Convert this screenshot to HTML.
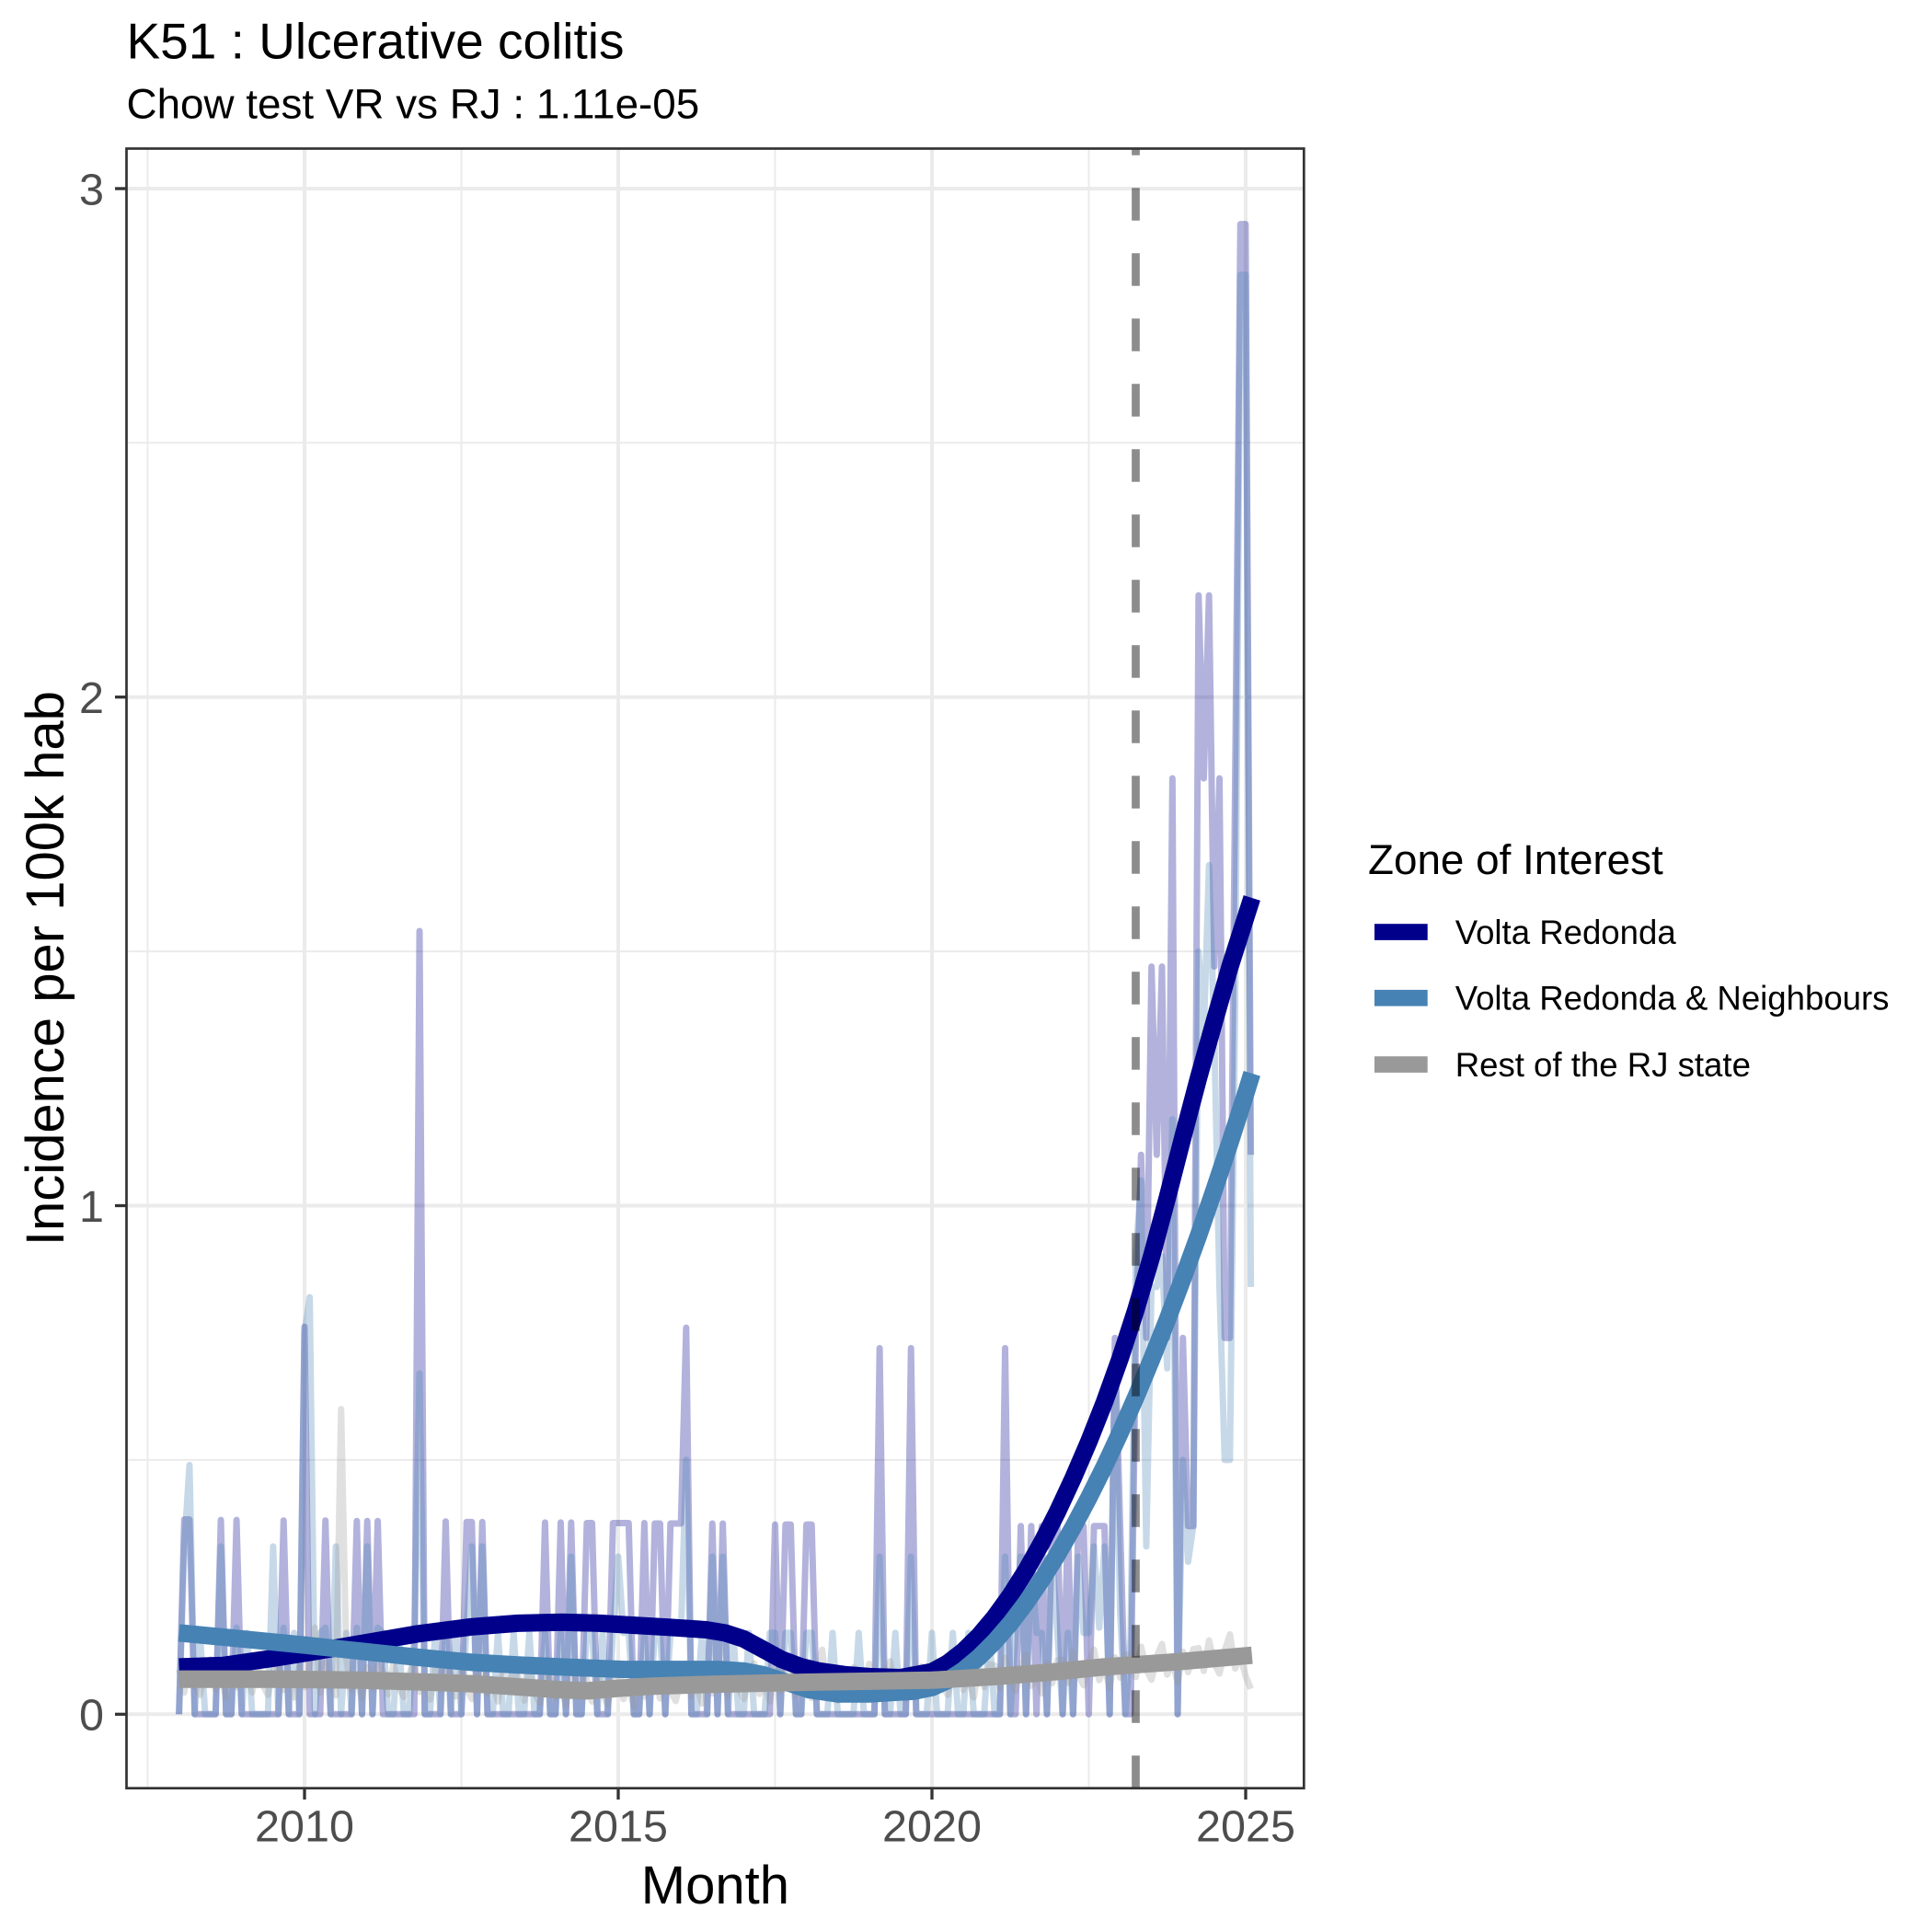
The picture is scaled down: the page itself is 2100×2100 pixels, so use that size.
<!DOCTYPE html>
<html>
<head>
<meta charset="utf-8">
<style>
html,body{margin:0;padding:0;background:#fff;}
svg{display:block;}
</style>
</head>
<body>
<svg width="2100" height="2100" viewBox="0 0 2100 2100" xmlns="http://www.w3.org/2000/svg" font-family="'Liberation Sans', Arial, sans-serif">
<rect x="0" y="0" width="2100" height="2100" fill="#ffffff"/>
<defs>
<clipPath id="pc"><rect x="137.5" y="161.5" width="1279.8" height="1782.2"/></clipPath>
</defs>

<rect x="137.5" y="161.5" width="1279.8" height="1782.2" fill="#ffffff"/>

<!-- minor grid -->
<g stroke="#ebebeb" stroke-width="2" fill="none">
<line x1="160.5" y1="161.5" x2="160.5" y2="1943.7"/>
<line x1="501.5" y1="161.5" x2="501.5" y2="1943.7"/>
<line x1="842.5" y1="161.5" x2="842.5" y2="1943.7"/>
<line x1="1183.5" y1="161.5" x2="1183.5" y2="1943.7"/>
<line x1="137.5" y1="1586.9" x2="1417.3" y2="1586.9"/>
<line x1="137.5" y1="1034.1" x2="1417.3" y2="1034.1"/>
<line x1="137.5" y1="481.3" x2="1417.3" y2="481.3"/>
</g>
<!-- major grid -->
<g stroke="#ebebeb" stroke-width="4" fill="none">
<line x1="331" y1="161.5" x2="331" y2="1943.7"/>
<line x1="672" y1="161.5" x2="672" y2="1943.7"/>
<line x1="1013" y1="161.5" x2="1013" y2="1943.7"/>
<line x1="1354" y1="161.5" x2="1354" y2="1943.7"/>
<line x1="137.5" y1="1863.3" x2="1417.3" y2="1863.3"/>
<line x1="137.5" y1="1310.5" x2="1417.3" y2="1310.5"/>
<line x1="137.5" y1="757.7" x2="1417.3" y2="757.7"/>
<line x1="137.5" y1="205" x2="1417.3" y2="205"/>
</g>

<g clip-path="url(#pc)">
<!-- raw series -->
<g transform="translate(194.6 1863.3) scale(5.683 -5.683)" fill="none" stroke-linejoin="round" stroke-linecap="butt">
<polyline stroke="#00008B" stroke-opacity="0.3" stroke-width="1.23"
points="0,0 1,37.25 2,37.25 3,0 7,0 8,37.16 9,0 10,0 11,37.16 12,0 19,0 20,37.06 21,0 23,0 24,74.12 25,0 27,0 28,37.06 29,0 33,0 34,36.96 35,0 36,36.96 37,0 38,36.96 39,0 45,0 46,149.8 47,0 50,0 51,36.87 52,0 54,0 55,36.77 56,36.77 57,0 58,36.77 59,0 69,0 70,36.67 71,0 72,0 73,36.67 74,0 75,36.67 76,0 77,0 78,36.57 79,36.57 80,0 82,0 83,36.57 84,36.57 85,36.57 86,36.57 87,0 88,0 89,36.57 90,0 91,36.48 92,36.48 93,0 94,36.48 95,36.48 96,36.48 97,73.93 98,0 101,0 102,36.48 103,0 104,36.48 105,0 113,0 114,36.28 115,0 116,36.28 117,36.28 118,0 119,0 120,36.28 121,36.28 122,0 133,0 134,70.03 135,0 139,0 140,70.03 141,0 157,0 158,70.03 159,0 160,0 161,35.99 162,0 163,35.99 164,0 165,35.99 166,0 167,35.99 168,35.99 169,0 170,35.99 171,0 172,35.99 173,35.99 174,0 175,35.99 176,35.99 177,35.99 178,0 179,71.98 180,35.99 181,0 182,0 183,71.98 184,107 185,71.98 186,143 187,107 188,143 189,71.98 190,179 191,0 192,71.98 193,35.99 194,35.99 195,214 196,179 197,214 198,143 199,179 200,71.98 201,71.98 202,179 203,285 204,285 205,107"/>
<polyline stroke="#4682B4" stroke-opacity="0.3" stroke-width="1.23"
points="0,0 1,32.1 2,47.66 3,0 4,15.56 5,0 7,0 8,32.1 9,0 10,0 11,16.54 12,0 13,15.56 14,0 17,0 18,32.1 19,0 20,16.54 21,0 22,15.56 23,0 24,72.95 25,79.76 26,0 27,15.56 28,16.54 29,0 30,32.1 31,0 32,15.56 33,0 34,16.54 35,0 36,32.1 37,0 38,16.54 39,15.56 40,0 41,0 42,15.56 43,0 44,0 45,15.56 46,65.17 47,0 48,0 49,15.56 50,0 51,16.54 52,0 53,15.56 54,0 55,16.54 56,32.1 57,0 58,32.1 59,0 60,0 61,15.56 62,0 63,0 64,15.56 65,0 66,0 67,15.56 68,0 69,0 70,15.56 71,0 72,0 73,15.56 74,0 75,30.15 76,0 77,0 78,15.56 79,15.56 80,0 81,15.56 82,0 83,15.56 84,30.15 85,15.56 86,15.56 87,0 88,0 89,15.56 90,0 91,15.56 92,15.56 93,0 94,15.56 95,15.56 96,15.56 97,48.64 98,0 99,0 100,15.56 101,0 102,30.15 103,0 104,30.15 105,0 106,15.56 107,0 108,0 109,15.56 110,0 112,0 113,15.56 114,15.56 115,0 116,15.56 117,15.56 118,0 119,0 120,15.56 121,15.56 122,0 124,0 125,15.56 126,0 129,0 130,15.56 131,0 133,0 134,30.15 135,0 136,0 137,15.56 138,0 139,0 140,30.15 141,0 143,0 144,15.56 145,0 147,0 148,15.56 149,0 150,0 151,15.56 152,0 154,0 155,15.56 156,0 157,0 158,30.15 159,0 160,15.56 161,30.15 162,0 163,30.15 164,15.56 165,15.56 166,0 167,30.15 168,15.56 169,0 170,15.56 171,0 172,30.15 173,15.56 174,15.56 175,32.1 176,16.54 177,32.1 178,0 179,68.09 180,19.45 181,0 182,14.59 183,87.54 184,102.1 185,32.1 186,81.71 187,81.71 188,87.54 189,66.14 190,113.8 191,0 192,48.64 193,29.18 194,35.99 195,145.9 196,130.3 197,162.4 198,130.3 199,81.71 200,48.64 201,48.64 202,136.2 203,275.3 204,275.3 205,81.71"/>
<polyline stroke="#999999" stroke-opacity="0.3" stroke-width="1.23"
points="0,8.56 1,4.18 2,10.01 3,5.64 4,3.69 5,8.07 6,10.50 7,4.66 8,7.10 9,3.21 10,9.04 11,5.15 12,9.53 13,8.56 14,4.18 15,10.01 16,5.64 17,3.69 18,8.07 19,10.50 20,4.66 21,7.10 22,3.21 23,9.04 24,5.15 25,9.53 26,16.54 27,4.09 28,9.92 29,5.55 30,3.60 31,58.36 32,10.41 33,4.57 34,7.01 35,3.12 36,8.95 37,5.06 38,9.44 39,8.18 40,3.80 41,9.63 42,5.26 43,3.31 44,7.69 45,10.12 46,4.28 47,6.72 48,2.83 49,8.66 50,4.77 51,9.15 52,7.79 53,3.41 54,9.24 55,4.87 56,2.92 57,7.30 58,9.73 59,3.89 60,6.33 61,2.44 62,8.27 63,4.38 64,8.76 65,7.01 66,2.63 67,8.46 68,4.09 69,2.14 70,6.52 71,8.95 72,3.11 73,5.55 74,1.66 75,7.49 76,3.60 77,7.98 78,6.81 79,2.43 80,8.26 81,3.89 82,1.94 83,6.32 84,8.75 85,2.91 86,5.35 87,1.46 88,7.29 89,3.40 90,7.78 91,7.40 92,3.02 93,8.85 94,4.48 95,2.53 96,6.91 97,9.34 98,3.50 99,5.94 100,2.05 101,7.88 102,3.99 103,8.37 104,7.79 105,3.41 106,9.24 107,4.87 108,2.92 109,7.30 110,9.73 111,3.89 112,6.33 113,2.44 114,8.27 115,4.38 116,8.76 117,7.98 118,3.60 119,9.43 120,5.06 121,3.11 122,7.49 123,12.35 124,4.08 125,6.52 126,2.63 127,8.46 128,4.57 129,8.95 130,8.18 131,3.80 132,9.63 133,5.26 134,3.31 135,7.69 136,10.12 137,4.28 138,6.72 139,2.83 140,8.66 141,4.77 142,9.15 143,8.56 144,4.18 145,10.01 146,5.64 147,3.69 148,8.07 149,10.50 150,4.66 151,7.10 152,3.21 153,9.04 154,5.15 155,9.53 156,9.34 157,4.96 158,10.79 159,6.42 160,4.47 161,8.85 162,11.28 163,5.44 164,7.88 165,3.99 166,9.82 167,5.93 168,10.31 169,10.41 170,6.03 171,11.86 172,7.49 173,5.54 174,9.92 175,12.35 176,6.51 177,8.95 178,5.06 179,10.89 180,7.00 181,11.38 182,11.48 183,7.10 184,12.93 185,8.56 186,6.61 187,10.99 188,13.42 189,7.58 190,10.02 191,6.13 192,11.96 193,8.07 194,12.45 195,12.65 196,8.27 197,14.10 198,9.73 199,7.78 200,12.16 201,15.27 202,8.75 203,11.19 204,7.30 205,4.86"/>
</g>

<!-- smoothed series -->
<g transform="translate(194.6 1863.3) scale(68.2 -68.2)" fill="none" stroke-linejoin="round" stroke-linecap="butt">
<polyline stroke="#00008B" stroke-width="0.279"
points="0,.754 0.7,.778 1.5,.892 2.2,1.005 2.9,1.127 3.8,1.281 4.67,1.394 5.4,1.451 6.1,1.467 6.7,1.451 7.1,1.427 7.8,1.386 8.4,1.346 8.7,1.297 9.0,1.200 9.3,1.038 9.6,.875 9.9,.762 10.2,.689 10.6,.632 11.0,.600 11.5,.584 12.0,.677 12.25,.814 12.5,1.007 12.75,1.253 13.0,1.550 13.25,1.897 13.5,2.292 13.75,2.736 14.0,3.226 14.25,3.764 14.5,4.345 14.75,4.977 15.0,5.674 15.25,6.444 15.5,7.295 15.75,8.227 16.0,9.200 16.25,10.148 16.5,11.040 16.75,11.915 17.1,13.010"/>
<polyline stroke="#4682B4" stroke-width="0.279"
points="0,1.297 1.0,1.200 2.0,1.102 2.9,1.005 3.8,.908 4.67,.827 5.4,.786 6.1,.754 7.1,.713 8.0,.713 8.6,.713 9.0,.689 9.3,.632 9.7,.503 10.05,.389 10.5,.324 11.0,.324 11.4,.349 11.7,.365 12.0,.425 12.25,.539 12.5,.702 12.75,.910 13.0,1.160 13.25,1.449 13.5,1.778 13.75,2.143 14.0,2.544 14.25,2.980 14.5,3.450 14.75,3.952 15.0,4.488 15.25,5.056 15.5,5.656 15.75,6.286 16.0,6.947 16.25,7.635 16.5,8.362 16.75,9.111 17.0,9.889 17.1,10.213"/>
<polyline stroke="#999999" stroke-width="0.279"
points="0,.559 1.5,.559 2.9,.543 4.0,.511 4.67,.486 5.5,.430 6.1,.389 6.5,.373 7.0,.413 7.5,.446 8.5,.478 10,.511 11,.527 12,.543 13,.600 14,.681 14.74,.754 16,.843 17.1,.940"/>
</g>

<!-- vertical dashed line -->
<line x1="1234.5" y1="1943.7" x2="1234.5" y2="161.5" stroke="#000000" stroke-opacity="0.45" stroke-width="8.7" stroke-dasharray="35.5 35.5"/>
</g>

<!-- panel border -->
<rect x="137.5" y="161.5" width="1279.8" height="1782.2" fill="none" stroke="#333333" stroke-width="2.7"/>

<!-- ticks -->
<g stroke="#333333" stroke-width="3.3">
<line x1="125" y1="1863.3" x2="137.5" y2="1863.3"/>
<line x1="125" y1="1310.5" x2="137.5" y2="1310.5"/>
<line x1="125" y1="757.7" x2="137.5" y2="757.7"/>
<line x1="125" y1="205" x2="137.5" y2="205"/>
<line x1="331" y1="1943.7" x2="331" y2="1956"/>
<line x1="672" y1="1943.7" x2="672" y2="1956"/>
<line x1="1013" y1="1943.7" x2="1013" y2="1956"/>
<line x1="1354" y1="1943.7" x2="1354" y2="1956"/>
</g>

<!-- tick labels -->
<g fill="#4d4d4d" font-size="48.5">
<text x="113" y="1880.7" text-anchor="end">0</text>
<text x="113" y="1327.9" text-anchor="end">1</text>
<text x="113" y="775.1" text-anchor="end">2</text>
<text x="113" y="222.4" text-anchor="end">3</text>
<text x="331" y="2001.7" text-anchor="middle">2010</text>
<text x="672" y="2001.7" text-anchor="middle">2015</text>
<text x="1013" y="2001.7" text-anchor="middle">2020</text>
<text x="1354" y="2001.7" text-anchor="middle">2025</text>
</g>

<!-- axis titles -->
<text x="777.4" y="2069" text-anchor="middle" font-size="58" fill="#000">Month</text>
<text transform="translate(69 1052.6) rotate(-90)" text-anchor="middle" font-size="58" fill="#000">Incidence per 100k hab</text>

<!-- titles -->
<text x="137.5" y="63.3" font-size="55" fill="#000">K51 : Ulcerative colitis</text>
<text x="137.5" y="128.3" font-size="45.8" fill="#000">Chow test VR vs RJ : 1.11e-05</text>

<!-- legend -->
<text x="1487" y="950" font-size="45.8" fill="#000">Zone of Interest</text>
<rect x="1494" y="1004.2" width="57.7" height="17.7" fill="#00008B"/>
<rect x="1494" y="1075.9" width="57.7" height="17.7" fill="#4682B4"/>
<rect x="1494" y="1148.2" width="57.7" height="17.7" fill="#999999"/>
<g font-size="36.6" fill="#000">
<text x="1581.7" y="1026">Volta Redonda</text>
<text x="1581.7" y="1097.7">Volta Redonda &amp; Neighbours</text>
<text x="1581.7" y="1170">Rest of the RJ state</text>
</g>
</svg>
</body>
</html>
